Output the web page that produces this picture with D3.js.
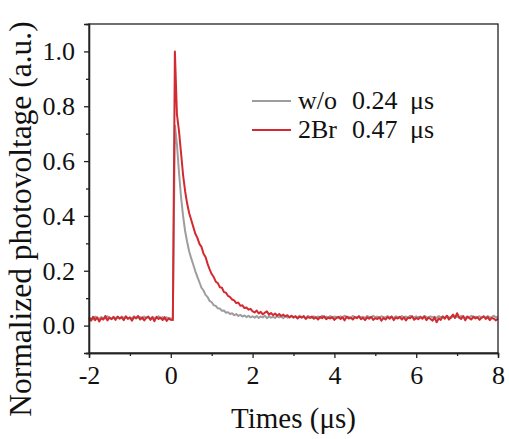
<!DOCTYPE html>
<html>
<head>
<meta charset="utf-8">
<script src="https://cdn.jsdelivr.net/npm/d3@7"></script>
<style>
  body { margin: 0; background: #fff; }
  text { font-family: "Liberation Serif", "Times New Roman", serif; fill: #111; }
</style>
</head>
<body>
<svg id="chart"></svg>
<script>
// time axis of the traces: starts at -2 us, one sample every 0.05 us, 201 samples
const tStart = -2;
const tStep = 0.05;

// w/o sample (grey)
const grayValues = [
  // -2.00 .. 0.05
  0.030,0.025,0.022,0.033,0.027,0.024,0.031,0.028,0.026,0.034,
  0.029,0.023,0.032,0.027,0.030,0.025,0.033,0.028,0.031,0.024,
  0.030,0.027,0.034,0.026,0.029,0.031,0.025,0.033,0.028,0.030,
  0.024,0.032,0.027,0.029,0.034,0.026,0.031,0.023,0.030,0.028,
  0.025,0.027,
  // 0.10 .. 2.00
  0.73,0.66,0.56,0.47,0.40,0.345,0.305,0.27,0.245,0.222,
  0.198,0.178,0.158,0.138,0.128,0.112,0.104,0.090,0.085,0.074,
  0.072,0.063,0.062,0.054,0.055,0.047,0.049,0.042,0.045,0.038,
  0.042,0.035,0.039,0.033,0.037,0.031,0.036,0.030,0.034,
  // 2.05 .. 8.00
  0.029,0.035,0.028,0.033,0.030,0.036,0.027,0.034,0.029,0.032,
  0.028,0.035,0.030,0.033,0.027,0.036,0.029,0.031,0.034,0.028,
  0.033,0.029,0.036,0.030,0.032,0.027,0.035,0.031,0.028,0.034,
  0.030,0.033,0.028,0.036,0.029,0.032,0.030,0.035,0.027,0.033,
  0.031,0.028,0.034,0.030,0.036,0.029,0.032,0.027,0.035,0.031,
  0.029,0.034,0.030,0.032,0.028,0.035,0.031,0.029,0.036,0.030,
  0.033,0.028,0.034,0.031,0.029,0.035,0.030,0.032,0.027,0.034,
  0.031,0.029,0.035,0.030,0.033,0.028,0.036,0.031,0.029,0.034,
  0.030,0.033,0.028,0.035,0.031,0.029,0.034,0.030,0.032,0.028,
  0.035,0.030,0.033,0.029,0.036,0.031,0.028,0.034,0.030,0.033,
  0.029,0.035,0.031,0.028,0.034,0.030,0.036,0.029,0.032,0.031,
  0.034,0.028,0.033,0.030,0.035,0.029,0.032,0.036,0.030,0.033
];

// 2Br sample (red)
const redValues = [
  // -2.00 .. 0.05
  0.028,0.018,0.032,0.020,0.030,0.015,0.027,0.022,0.035,0.019,
  0.029,0.024,0.031,0.021,0.033,0.026,0.030,0.020,0.034,0.025,
  0.029,0.018,0.031,0.027,0.035,0.022,0.030,0.019,0.028,0.033,
  0.021,0.030,0.016,0.032,0.024,0.029,0.020,0.031,0.017,0.026,
  0.021,0.020,
  // 0.10 .. 2.00
  1.00,0.77,0.71,0.63,0.55,0.49,0.445,0.41,0.385,0.36,
  0.335,0.32,0.298,0.287,0.262,0.25,0.225,0.205,0.188,0.177,
  0.160,0.155,0.140,0.138,0.122,0.120,0.108,0.104,0.095,0.092,
  0.082,0.084,0.072,0.074,0.064,0.066,0.058,0.061,0.052,
  // 2.05 .. 8.00
  0.048,0.055,0.044,0.050,0.041,0.047,0.052,0.040,0.046,0.038,
  0.044,0.036,0.042,0.035,0.040,0.033,0.038,0.030,0.036,0.031,
  0.034,0.026,0.033,0.029,0.035,0.024,0.031,0.028,0.033,0.025,
  0.030,0.022,0.032,0.027,0.034,0.023,0.029,0.026,0.031,0.021,
  0.028,0.032,0.024,0.030,0.019,0.033,0.026,0.029,0.022,0.031,
  0.027,0.034,0.023,0.028,0.020,0.030,0.025,0.032,0.021,0.027,
  0.024,0.030,0.018,0.028,0.022,0.031,0.025,0.033,0.020,0.029,
  0.026,0.032,0.022,0.030,0.019,0.029,0.027,0.034,0.021,0.028,
  0.023,0.031,0.025,0.033,0.020,0.029,0.024,0.018,0.030,0.012,
  0.026,0.021,0.033,0.025,0.036,0.022,0.031,0.040,0.028,0.045,
  0.030,0.024,0.035,0.019,0.032,0.027,0.022,0.033,0.026,0.030,
  0.021,0.029,0.034,0.024,0.031,0.020,0.028,0.025,0.019,0.026
];

// legend: sample name, lifetime
const seriesNames = ["w/o", "2Br"];
const seriesLifetimes = ["0.24", "0.47"];
const seriesColors = ["#9d9d9d", "#d22a30"];

const xTicks = [-2, 0, 2, 4, 6, 8];
const xMinorTicks = [-1, 1, 3, 5, 7];
const yTicks = [0.0, 0.2, 0.4, 0.6, 0.8, 1.0];
const yMinorTicks = [-0.1, 0.1, 0.3, 0.5, 0.7, 0.9];

// layout
const W = 509, H = 439;
const margin = {top: 24, right: 11, bottom: 86, left: 89};
const width = W - margin.left - margin.right;
const height = H - margin.top - margin.bottom;
const tickFont = 26;

const svgRoot = d3.select('#chart').attr('width', W).attr('height', H);
const svg = svgRoot.append('g')
    .attr('transform', 'translate(' + margin.left + ',' + margin.top + ')');

const x = d3.scaleLinear().domain([-2, 8]).range([0, width]);
const y = d3.scaleLinear().domain([-0.1, 1.1]).range([height, 0]);

// traces
const line = d3.line()
    .x((d, i) => x(tStart + i * tStep))
    .y(d => y(d));

[grayValues, redValues].forEach(function(vals, k) {
  svg.append('path')
      .datum(vals)
      .attr('fill', 'none')
      .attr('stroke', seriesColors[k])
      .attr('stroke-width', 2)
      .attr('stroke-linejoin', 'round')
      .attr('d', line);
});

// frame
svg.append('rect')
    .attr('width', width).attr('height', height)
    .attr('fill', 'none').attr('stroke', '#222').attr('stroke-width', 1.3);

// X axis
const xAxis = svg.append('g')
    .attr('transform', 'translate(0,' + height + ')')
    .call(d3.axisBottom(x).tickValues(xTicks).tickSize(5).tickPadding(8).tickFormat(d => String(d)));
svg.append('g')
    .attr('transform', 'translate(0,' + height + ')')
    .call(d3.axisBottom(x).tickValues(xMinorTicks).tickSize(3).tickFormat(''));

// Y axis
const yAxis = svg.append('g')
    .call(d3.axisLeft(y).tickValues(yTicks).tickSize(5).tickPadding(9).tickFormat(d3.format('.1f')));
svg.append('g')
    .call(d3.axisLeft(y).tickValues(yMinorTicks).tickSize(3).tickFormat(''));

svg.selectAll('.domain').attr('stroke', '#222').attr('stroke-width', 1.3);
svg.selectAll('.tick line').attr('stroke', '#222').attr('stroke-width', 1.3);
[xAxis, yAxis].forEach(function(ax) {
  ax.attr('font-size', tickFont);
  ax.selectAll('.tick text').attr('fill', '#111');
});

// axis titles
svg.append('text')
    .attr('x', width / 2)
    .attr('y', height + 75)
    .attr('text-anchor', 'middle')
    .attr('font-size', 29)
    .text('Times (\u03bcs)');

svgRoot.append('text')
    .attr('transform', 'translate(31,219)rotate(-90)')
    .attr('text-anchor', 'middle')
    .attr('font-size', 31.5)
    .text('Normalized photovoltage (a.u.)');

// legend
const legend = svgRoot.append('g').attr('transform', 'translate(252,101)');
seriesNames.forEach(function(name, k) {
  const row = legend.append('g').attr('transform', 'translate(0,' + (k * 29) + ')');
  row.append('line')
      .attr('x1', 0).attr('x2', 39)
      .attr('stroke', seriesColors[k]).attr('stroke-width', 2);
  const t = row.append('text').attr('y', 8).attr('font-size', 26);
  t.append('tspan').attr('x', 46).text(name);
  t.append('tspan').attr('x', 100).text(seriesLifetimes[k]);
  t.append('tspan').attr('x', 158).text('\u03bcs');
});
</script>
</body>
</html>
